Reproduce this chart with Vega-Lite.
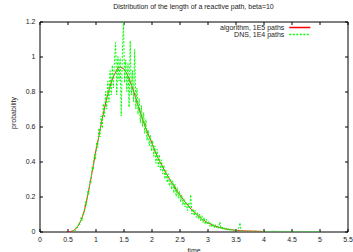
{
  "$schema": "https://vega.github.io/schema/vega-lite/v6.json",
  "width": 308,
  "height": 210,
  "autosize": "none",
  "padding": {"left": 39.5, "top": 21.5, "right": 5.5, "bottom": 20.5},
  "title": {"text": "Distribution of the length of a reactive path, beta=10", "fontSize": 7, "fontWeight": "normal", "offset": 8, "anchor": "middle", "color": "#222", "font": "Liberation Sans"},
  "config": {
    "font": "Liberation Sans",
    "view": {"stroke": "black", "strokeWidth": 1},
    "axis": {"domain": false, "grid": false, "tickColor": "black", "tickSize": -3, "tickWidth": 1, "labelFontSize": 7, "labelColor": "#222", "titleFontSize": 7, "titleFontWeight": "normal", "titleColor": "#222", "labelFlush": false, "labelOverlap": false, "labelPadding": 6.5},
    "legend": {"orient": "none", "legendX": 256.3, "legendY": 2, "title": null, "symbolType": "M-3.5,0L3.5,0", "symbolSize": 36, "symbolStrokeWidth": 1.5, "labelAlign": "right", "labelOffset": -19.5, "labelFontSize": 7, "labelColor": "#222", "rowPadding": 0, "padding": 0}
  },
  "datasets": {
    "alg": [
      {"t":0.5,"p":0},{"t":0.55,"p":0},{"t":0.6,"p":0.004},{"t":0.65,"p":0.016},{"t":0.7,"p":0.036},{"t":0.75,"p":0.07},{"t":0.8,"p":0.118},{"t":0.85,"p":0.19},{"t":0.9,"p":0.272},{"t":0.95,"p":0.358},{"t":1.0,"p":0.452},{"t":1.05,"p":0.528},{"t":1.1,"p":0.612},{"t":1.15,"p":0.688},{"t":1.2,"p":0.762},{"t":1.25,"p":0.818},{"t":1.3,"p":0.872},{"t":1.35,"p":0.905},{"t":1.4,"p":0.935},{"t":1.45,"p":0.938},{"t":1.5,"p":0.93},{"t":1.55,"p":0.908},{"t":1.6,"p":0.872},{"t":1.65,"p":0.83},{"t":1.7,"p":0.782},{"t":1.75,"p":0.728},{"t":1.8,"p":0.682},{"t":1.85,"p":0.632},{"t":1.9,"p":0.59},{"t":1.95,"p":0.548},{"t":2.0,"p":0.512},{"t":2.05,"p":0.468},{"t":2.1,"p":0.432},{"t":2.15,"p":0.398},{"t":2.2,"p":0.37},{"t":2.25,"p":0.338},{"t":2.3,"p":0.312},{"t":2.35,"p":0.284},{"t":2.4,"p":0.262},{"t":2.45,"p":0.234},{"t":2.5,"p":0.212},{"t":2.55,"p":0.19},{"t":2.6,"p":0.168},{"t":2.65,"p":0.152},{"t":2.7,"p":0.13},{"t":2.75,"p":0.116},{"t":2.8,"p":0.099},{"t":2.85,"p":0.086},{"t":2.9,"p":0.071},{"t":2.95,"p":0.061},{"t":3.0,"p":0.05},{"t":3.05,"p":0.043},{"t":3.1,"p":0.034},{"t":3.15,"p":0.03},{"t":3.2,"p":0.024},{"t":3.25,"p":0.02},{"t":3.3,"p":0.016},{"t":3.35,"p":0.013},{"t":3.4,"p":0.011},{"t":3.45,"p":0.009},{"t":3.5,"p":0.007},{"t":3.6,"p":0.005},{"t":3.7,"p":0.003},{"t":3.8,"p":0.002},{"t":3.9,"p":0.001},{"t":4.0,"p":0}
    ],
    "dns": [
      {"t":0.6,"p":0},{"t":0.62,"p":0.01},{"t":0.64,"p":0},{"t":0.66,"p":0.03},{"t":0.68,"p":0.02},{"t":0.7,"p":0.05},{"t":0.72,"p":0.04},{"t":0.74,"p":0.08},{"t":0.76,"p":0.06},{"t":0.78,"p":0.11},{"t":0.8,"p":0.11},{"t":0.82,"p":0.17},{"t":0.84,"p":0.15},{"t":0.86,"p":0.23},{"t":0.88,"p":0.21},{"t":0.9,"p":0.29},{"t":0.92,"p":0.28},{"t":0.94,"p":0.37},{"t":0.96,"p":0.35},{"t":0.98,"p":0.44},{"t":1.0,"p":0.41},{"t":1.02,"p":0.51},{"t":1.04,"p":0.48},{"t":1.06,"p":0.59},{"t":1.08,"p":0.54},{"t":1.1,"p":0.66},{"t":1.12,"p":0.59},{"t":1.14,"p":0.73},{"t":1.16,"p":0.65},{"t":1.18,"p":0.8},{"t":1.2,"p":0.7},{"t":1.22,"p":0.86},{"t":1.24,"p":0.74},{"t":1.26,"p":0.92},{"t":1.28,"p":0.78},{"t":1.3,"p":0.95},{"t":1.32,"p":0.82},{"t":1.34,"p":0.99},{"t":1.36,"p":1.08},{"t":1.38,"p":0.78},{"t":1.4,"p":1.0},{"t":1.42,"p":0.86},{"t":1.44,"p":0.99},{"t":1.46,"p":0.66},{"t":1.48,"p":1.02},{"t":1.5,"p":1.2},{"t":1.52,"p":0.85},{"t":1.54,"p":0.98},{"t":1.56,"p":0.8},{"t":1.58,"p":0.96},{"t":1.6,"p":0.71},{"t":1.62,"p":1.09},{"t":1.64,"p":0.78},{"t":1.66,"p":0.92},{"t":1.68,"p":0.74},{"t":1.7,"p":1.04},{"t":1.72,"p":0.7},{"t":1.74,"p":0.82},{"t":1.76,"p":0.67},{"t":1.78,"p":0.76},{"t":1.8,"p":0.62},{"t":1.82,"p":0.72},{"t":1.84,"p":0.6},{"t":1.86,"p":0.68},{"t":1.88,"p":0.56},{"t":1.9,"p":0.64},{"t":1.92,"p":0.52},{"t":1.94,"p":0.58},{"t":1.96,"p":0.49},{"t":1.98,"p":0.55},{"t":2.0,"p":0.46},{"t":2.02,"p":0.52},{"t":2.04,"p":0.43},{"t":2.06,"p":0.49},{"t":2.08,"p":0.39},{"t":2.1,"p":0.47},{"t":2.12,"p":0.37},{"t":2.14,"p":0.44},{"t":2.16,"p":0.35},{"t":2.18,"p":0.41},{"t":2.2,"p":0.33},{"t":2.22,"p":0.38},{"t":2.24,"p":0.3},{"t":2.26,"p":0.35},{"t":2.28,"p":0.28},{"t":2.3,"p":0.33},{"t":2.32,"p":0.26},{"t":2.34,"p":0.3},{"t":2.36,"p":0.24},{"t":2.38,"p":0.29},{"t":2.4,"p":0.22},{"t":2.42,"p":0.27},{"t":2.44,"p":0.2},{"t":2.46,"p":0.25},{"t":2.48,"p":0.19},{"t":2.5,"p":0.23},{"t":2.52,"p":0.17},{"t":2.54,"p":0.21},{"t":2.56,"p":0.15},{"t":2.58,"p":0.19},{"t":2.6,"p":0.14},{"t":2.62,"p":0.17},{"t":2.64,"p":0.12},{"t":2.66,"p":0.16},{"t":2.68,"p":0.13},{"t":2.7,"p":0.21},{"t":2.72,"p":0.1},{"t":2.74,"p":0.13},{"t":2.76,"p":0.09},{"t":2.78,"p":0.12},{"t":2.8,"p":0.08},{"t":2.82,"p":0.11},{"t":2.84,"p":0.07},{"t":2.86,"p":0.1},{"t":2.88,"p":0.06},{"t":2.9,"p":0.09},{"t":2.92,"p":0.05},{"t":2.94,"p":0.08},{"t":2.96,"p":0.04},{"t":2.98,"p":0.07},{"t":3.0,"p":0.04},{"t":3.02,"p":0.06},{"t":3.04,"p":0.03},{"t":3.06,"p":0.05},{"t":3.08,"p":0.025},{"t":3.1,"p":0.045},{"t":3.12,"p":0.02},{"t":3.14,"p":0.04},{"t":3.16,"p":0.02},{"t":3.18,"p":0.035},{"t":3.2,"p":0.015},{"t":3.22,"p":0.055},{"t":3.24,"p":0.015},{"t":3.26,"p":0.03},{"t":3.28,"p":0.01},{"t":3.3,"p":0.025},{"t":3.32,"p":0.01},{"t":3.34,"p":0.02},{"t":3.36,"p":0.005},{"t":3.38,"p":0.02},{"t":3.4,"p":0.005},{"t":3.42,"p":0.015},{"t":3.44,"p":0.005},{"t":3.46,"p":0.01},{"t":3.48,"p":0},{"t":3.5,"p":0.012},{"t":3.52,"p":0},{"t":3.54,"p":0.01},{"t":3.56,"p":0.02},{"t":3.58,"p":0.05},{"t":3.6,"p":0},{"t":3.62,"p":0.008},{"t":3.64,"p":0},{"t":3.66,"p":0.005},{"t":3.68,"p":0},{"t":3.7,"p":0.004},{"t":3.72,"p":0},{"t":3.76,"p":0.003},{"t":3.8,"p":0},{"t":3.85,"p":0.003},{"t":3.9,"p":0},{"t":3.95,"p":0.002},{"t":4.0,"p":0},{"t":4.1,"p":0},{"t":4.2,"p":0.002},{"t":4.3,"p":0},{"t":4.4,"p":0},{"t":4.5,"p":0},{"t":4.6,"p":0},{"t":4.7,"p":0},{"t":4.8,"p":0},{"t":4.9,"p":0},{"t":5.0,"p":0}
    ]
  },
  "layer": [
    {
      "data": {"name": "alg"},
      "mark": {"type": "line", "strokeWidth": 1, "clip": true},
      "encoding": {
        "x": {"field": "t", "type": "quantitative", "scale": {"domain": [0, 5.5], "nice": false, "zero": false},
              "axis": {"orient": "bottom", "title": "time", "values": [0,0.5,1,1.5,2,2.5,3,3.5,4,4.5,5,5.5], "format": "~g", "titlePadding": 4}},
        "y": {"field": "p", "type": "quantitative", "scale": {"domain": [0, 1.2], "nice": false},
              "axis": {"orient": "left", "title": "probability", "values": [0,0.2,0.4,0.6,0.8,1,1.2], "format": "~g", "labelPadding": 7.5, "titlePadding": 9, "titleY": 91}},
        "color": {"datum": "algorithm, 1E5 paths", "type": "nominal",
                  "scale": {"domain": ["algorithm, 1E5 paths", "DNS, 1E4 paths"], "range": ["#ff0000", "#00ff00"]}},
        "strokeDash": {"datum": "algorithm, 1E5 paths", "type": "nominal",
                  "scale": {"domain": ["algorithm, 1E5 paths", "DNS, 1E4 paths"], "range": [[1, 0], [2, 1.5]]}}
      }
    },
    {
      "data": {"name": "dns"},
      "mark": {"type": "line", "strokeWidth": 1, "clip": true},
      "encoding": {
        "x": {"field": "t", "type": "quantitative", "axis": {"orient": "top", "title": null, "labels": false, "values": [0,0.5,1,1.5,2,2.5,3,3.5,4,4.5,5,5.5]}},
        "y": {"field": "p", "type": "quantitative", "axis": {"orient": "right", "title": null, "labels": false, "values": [0,0.2,0.4,0.6,0.8,1,1.2]}},
        "color": {"datum": "DNS, 1E4 paths", "type": "nominal"},
        "strokeDash": {"datum": "DNS, 1E4 paths", "type": "nominal"}
      }
    }
  ],
  "resolve": {"axis": {"x": "independent", "y": "independent"}}
}
